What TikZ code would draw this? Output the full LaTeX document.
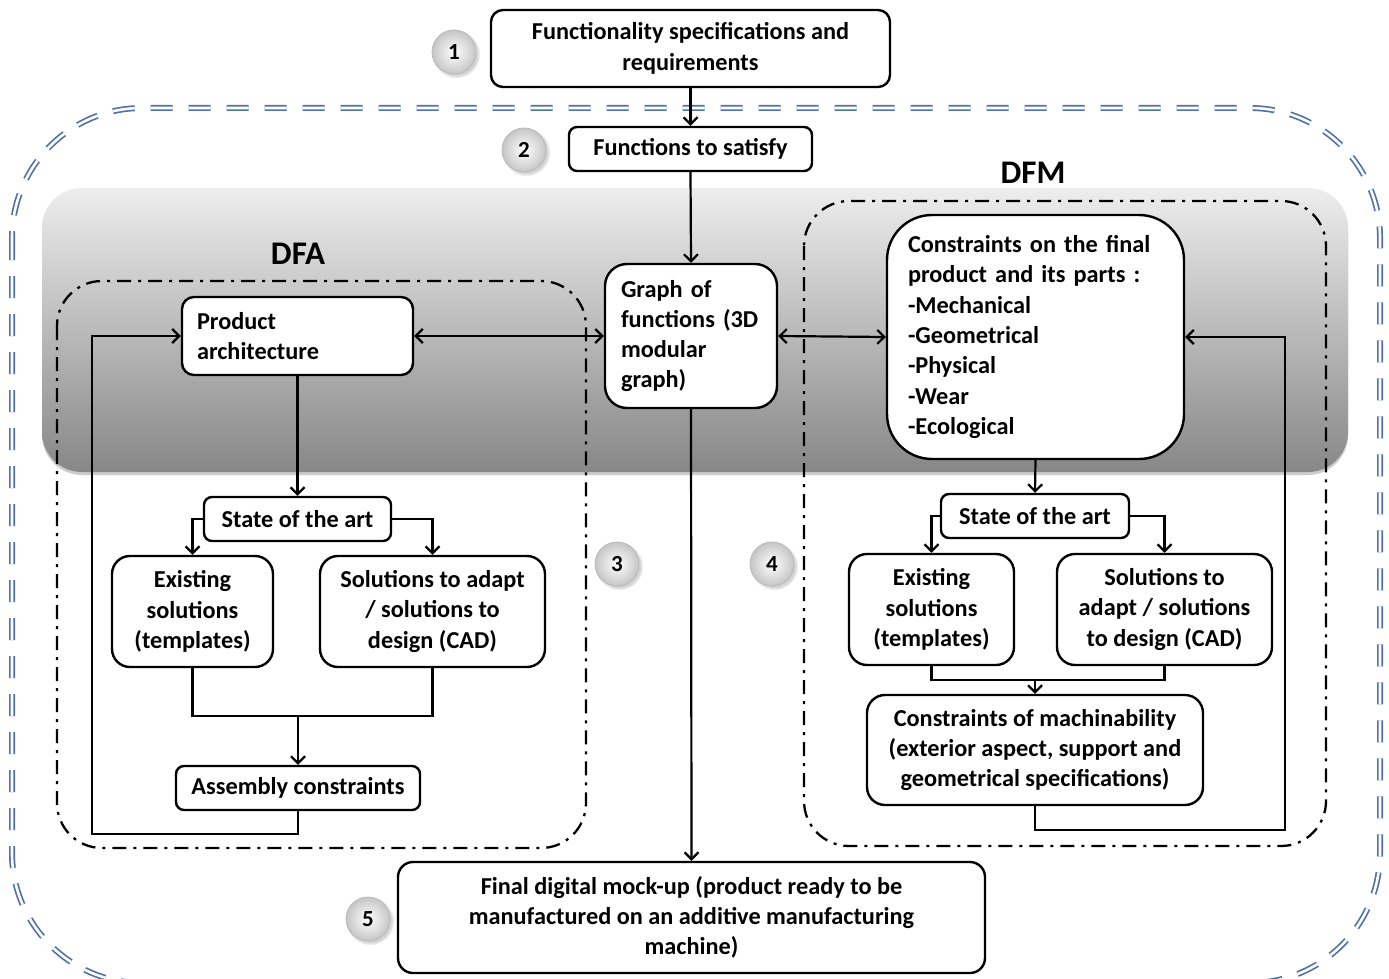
\documentclass[tikz,border=0pt]{standalone}
\usepackage{fontspec}
\setmainfont{Carlito}
\usetikzlibrary{arrows.meta,shadows,calc}
\definecolor{dblue}{RGB}{79,113,168}
\begin{document}
\begin{tikzpicture}[x=1pt,y=-1pt,
  every node/.style={font=\bfseries\fontsize{24.3}{30.3}\selectfont},
  box/.style={draw, line width=2.4pt, fill=white, inner sep=0pt, align=center},
  lbox/.style={box, align=left},
  arr/.style={line width=2.2pt, -{Straight Barb[length=7pt,width=14pt,line width=2.2pt]}},
  darr/.style={line width=2.2pt, {Straight Barb[length=7pt,width=14pt,line width=2.2pt]}-{Straight Barb[length=7pt,width=14pt,line width=2.2pt]}},
  ln/.style={line width=2.2pt},
  numc/.style={circle, minimum size=44pt, inner sep=0pt, draw=gray!55, line width=0.8pt,
    inner color=white, outer color=gray!45, circular drop shadow={shadow xshift=2pt, shadow yshift=-2pt, opacity=0.35},
    font=\bfseries\fontsize{23}{24}\selectfont},
  ddot/.style={draw, line width=2.3pt, dash pattern=on 14pt off 7pt on 3pt off 7pt},
  outer/.style={draw=dblue, double=white, line width=1.7pt, double distance=2.6pt, dash pattern=on 22pt off 16pt},
  big/.style={font=\bfseries\fontsize{33}{36}\selectfont}
]
\useasboundingbox (0,0) rectangle (1389,979);
\clip (0,0) rectangle (1389,979);
\fill[white] (0,0) rectangle (1389,979);

% outer dashed frame
\draw[outer, rounded corners=130pt] (12,108) rectangle (1380,983);

% gray band
\shade[top color=black!7, bottom color=black!47, rounded corners=40pt,
  drop shadow={shadow xshift=0pt, shadow yshift=-3pt, opacity=0.4}] (42,188) rectangle (1348,472);

% dash-dot frames
\draw[ddot, rounded corners=45pt] (57,281) rectangle (586,848);
\draw[ddot, rounded corners=45pt] (804,201) rectangle (1326,846);

% labels
\node[big] (dfa) at (298,254) {DFA};
\node[big] (dfm) at (1033,173) {DFM};

% nodes
\node[box, rounded corners=12pt, minimum width=399pt, minimum height=77pt] (spec) at (690.5,48.5)
  {Functionality specifications and\\requirements};
\node[box, rounded corners=8pt, minimum width=243pt, minimum height=44pt] (fun) at (690.5,149)
  {Functions to satisfy};
\node[lbox, rounded corners=22pt, minimum width=172pt, minimum height=144pt, text width=140pt] (graph) at (691,336)
  {Graph~of\\functions~(3D\\modular\\graph)};
\node[lbox, rounded corners=12pt, minimum width=231pt, minimum height=78pt, text width=201pt] (pa) at (297.5,336)
  {Product\\architecture};
\node[lbox, rounded corners=45pt, minimum width=297pt, minimum height=244pt, text width=255pt] (cons) at (1035.5,337)
  {Constraints~on~the~final\\product~and~its~parts~:\\-Mechanical\\-Geometrical\\-Physical\\-Wear\\-Ecological};

\node[box, rounded corners=8pt, minimum width=187pt, minimum height=44pt] (st1) at (297.5,519) {State of the art};
\node[box, rounded corners=18pt, minimum width=161pt, minimum height=111pt] (ex1) at (192.5,611.5)
  {Existing\\solutions\\(templates)};
\node[box, rounded corners=18pt, minimum width=225pt, minimum height=111pt] (sa1) at (432.5,611.5)
  {Solutions to adapt\\/ solutions to\\design (CAD)};
\node[box, rounded corners=8pt, minimum width=244pt, minimum height=44pt] (asm) at (298,788) {Assembly constraints};

\node[box, rounded corners=8pt, minimum width=188pt, minimum height=44pt] (st2) at (1035,516) {State of the art};
\node[box, rounded corners=18pt, minimum width=165pt, minimum height=111pt] (ex2) at (931.5,609.5)
  {Existing\\solutions\\(templates)};
\node[box, rounded corners=18pt, minimum width=215pt, minimum height=111pt] (sa2) at (1164.5,609.5)
  {Solutions to\\adapt / solutions\\to design (CAD)};
\node[box, rounded corners=18pt, minimum width=336pt, minimum height=110pt] (mach) at (1035,750)
  {Constraints of machinability\\(exterior aspect, support and\\geometrical specifications)};

\node[box, rounded corners=15pt, minimum width=587pt, minimum height=111pt] (fin) at (691.5,917.5)
  {Final digital mock-up (product ready to be\\manufactured on an additive manufacturing\\machine)};

% numbered circles
\node[numc] (c1) at (454,52) {1};
\node[numc] (c2) at (524,150) {2};
\node[numc] (c3) at (617,564) {3};
\node[numc] (c4) at (772,564) {4};
\node[numc] (c5) at (368,919) {5};

% coordinates
\coordinate (m1) at (298,716);
\coordinate (m2) at (1035,680);
\coordinate (lpA) at (92,834);
\coordinate (lpB) at (1285,830);

% connectors
\draw[arr] (spec.south) -- (fun.north);
\draw[arr] (fun.south) -- (graph.north);
\draw[darr] (pa.east) -- (graph.west);
\draw[darr] (graph.east) -- (cons.west);
\draw[arr] (graph.south) -- (fin.north);

\draw[arr] (pa.south) -- (st1.north);
\draw[arr] (st1.west) -| (ex1.north);
\draw[arr] (st1.east) -| (sa1.north);
\draw[ln] (ex1.south) |- (m1) -| (sa1.south);
\draw[arr] (m1) -- (asm.north);
\draw[arr] (asm.south) |- (lpA) |- (pa.west);

\draw[arr] (cons.south) -- (st2.north);
\draw[arr] (st2.west) -| (ex2.north);
\draw[arr] (st2.east) -| (sa2.north);
\draw[ln] (ex2.south) |- (m2) -| (sa2.south);
\draw[arr] (m2) -- (mach.north);
\draw[arr] (mach.south) |- (lpB) |- (cons.east);
\end{tikzpicture}
\end{document}
